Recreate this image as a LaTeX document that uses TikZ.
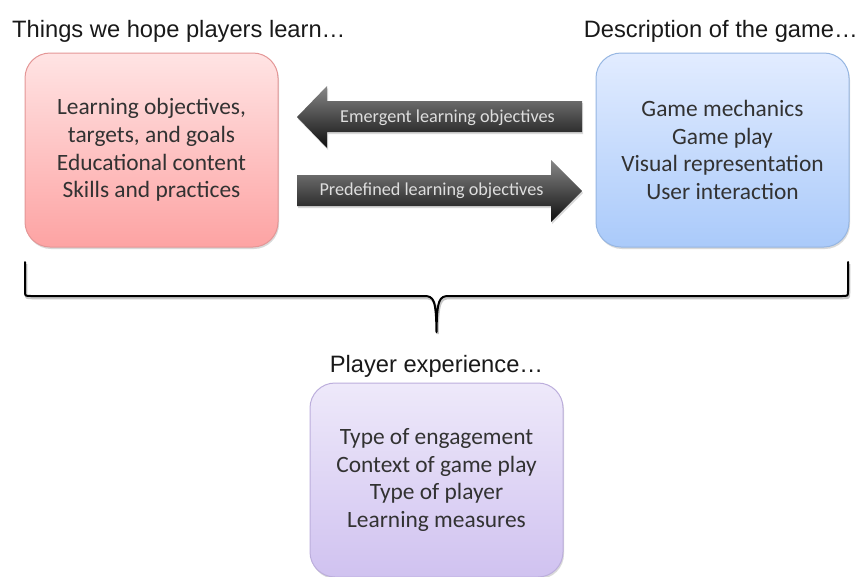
\documentclass[tikz,border=0pt]{standalone}
\usepackage{fontspec}
\setmainfont{Carlito}
\newfontfamily\headfont{Liberation Sans}
\usetikzlibrary{shadows}

\definecolor{redtop}{RGB}{255,228,228}
\definecolor{redbot}{RGB}{253,163,163}
\definecolor{redline}{RGB}{228,150,150}
\definecolor{bluetop}{RGB}{226,236,255}
\definecolor{bluebot}{RGB}{170,202,250}
\definecolor{blueline}{RGB}{150,182,226}
\definecolor{purptop}{RGB}{238,233,250}
\definecolor{purpbot}{RGB}{208,194,240}
\definecolor{purpline}{RGB}{188,174,220}
\definecolor{arrtop}{RGB}{135,135,135}
\definecolor{arrbot}{RGB}{15,15,15}
\definecolor{arrtext}{RGB}{222,222,222}
\definecolor{headtext}{RGB}{25,25,25}
\definecolor{boxtext}{RGB}{50,50,50}

\tikzset{
	box/.style={rounded corners=25pt, minimum width=253pt, minimum height=194pt,
		line width=1pt, align=center, text=boxtext,
		font=\fontsize{23.4}{27.7}\selectfont,
		drop shadow={opacity=0.3, shadow xshift=1pt, shadow yshift=-2pt}},
	heading/.style={text=headtext, inner sep=0pt, font=\headfont\fontsize{23.7}{27}\selectfont},
	blockarrow/.style={top color=arrtop, bottom color=arrbot,
		drop shadow={opacity=0.3, shadow xshift=1pt, shadow yshift=-2pt}},
	arrlabel/.style={text=arrtext, inner sep=0pt, font=\fontsize{18.2}{20}\selectfont},
	brace/.style={line width=2pt, line cap=round, line join=round,
		preaction={draw=black!22, line width=2.5pt, transform canvas={shift={(1pt,-2pt)}}}}
}

\begin{document}
\begin{tikzpicture}[x=1pt, y=-1pt]
	\useasboundingbox (0,0) rectangle (864,576);

	% the three boxes
	\node[box, top color=redtop, bottom color=redbot, draw=redline] (learn) at (151.5,150)
		{Learning objectives,\\targets, and goals\\Educational content\\Skills and practices};
	\node[box, top color=bluetop, bottom color=bluebot, draw=blueline] (game) at (722.5,150)
		{Game mechanics\\Game play\\Visual representation\\User interaction};
	\node[box, top color=purptop, bottom color=purpbot, draw=purpline] (exper) at (436.5,480)
		{Type of engagement\\Context of game play\\Type of player\\Learning measures};

	\node[heading, anchor=base west] (learnhead) at (12,37) {Things we hope players learn\dots};
	\node[heading, anchor=base east] (gamehead) at (858,37) {Description of the game\dots};
	\node[heading, anchor=base] (experhead) at (exper.north |- 0,372) {Player experience\dots};

	% block arrows between the top boxes
	\path[blockarrow] (582,101) -- (327,101) -- (327,86) -- (297,117) -- (327,148)
		-- (327,132) -- (582,132) -- cycle;
	\path[blockarrow] (297,175) -- (551,175) -- (551,160) -- (582,191) -- (551,222)
		-- (551,206) -- (297,206) -- cycle;
	\node[arrlabel] (emerg) at (447.5,117.5) {Emergent learning objectives};
	\node[arrlabel] (predef) at (431.5,191) {Predefined learning objectives};

	% brace under the top boxes
	\coordinate (bl) at (25,262);
	\coordinate (br) at (848,262);
	\coordinate (tip) at (exper.north |- 0,332);
	\draw[brace] (bl) -- (25,291) .. controls (25,296) .. (31,296) -- (424,296)
		.. controls (434,296) and (436,300) .. (tip)
		.. controls (437,300) and (439,296) .. (449,296) -- (842,296)
		.. controls (848,296) .. (848,291) -- (br);
\end{tikzpicture}
\end{document}
